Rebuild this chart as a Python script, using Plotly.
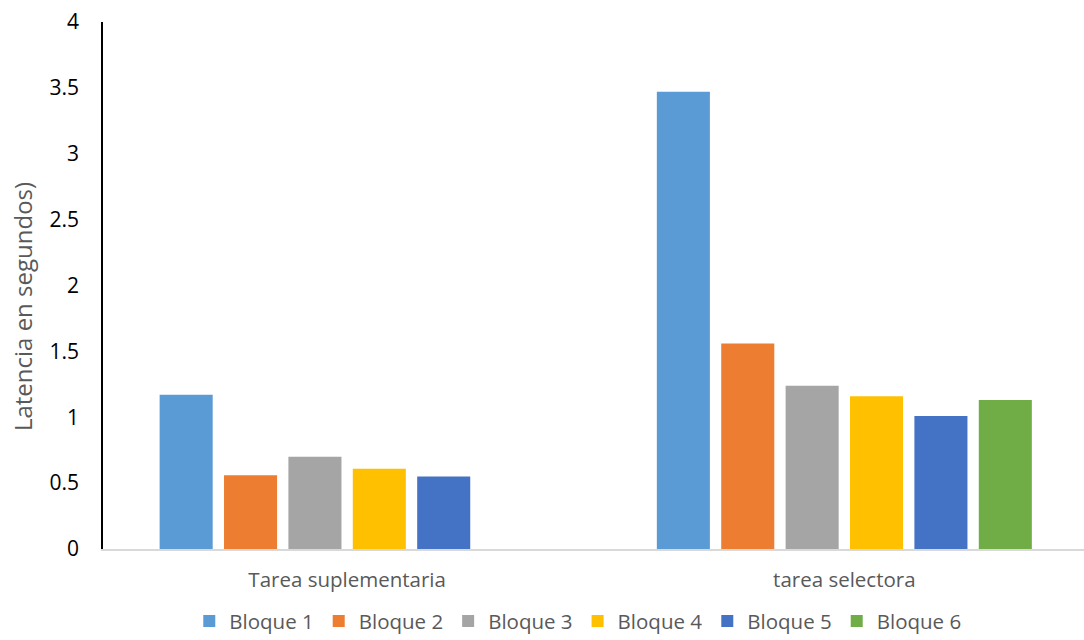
import plotly.graph_objects as go

categories = ["Tarea suplementaria", "tarea selectora"]
series_names = ["Bloque 1", "Bloque 2", "Bloque 3", "Bloque 4", "Bloque 5", "Bloque 6"]
bloque1 = [1.17, 3.47]
bloque2 = [0.56, 1.56]
bloque3 = [0.70, 1.24]
bloque4 = [0.61, 1.16]
bloque5 = [0.55, 1.01]
bloque6 = [None, 1.13]
colors = ["#5B9BD5", "#ED7D31", "#A5A5A5", "#FFC000", "#4472C4", "#70AD47"]
y_title = "Latencia en segundos)"

all_series = [bloque1, bloque2, bloque3, bloque4, bloque5, bloque6]

fig = go.Figure()
for name, vals, col in zip(series_names, all_series, colors):
    fig.add_trace(go.Bar(x=categories, y=vals, name=name, marker_color=col,
                         marker_line_width=0))

fig.update_layout(
    width=1084, height=640,
    margin=dict(l=103, r=0, t=22, b=91, autoexpand=False),
    paper_bgcolor="white", plot_bgcolor="white",
    font=dict(family="Open Sans", size=19, color="#595959"),
    barmode="group", bargap=0.223, bargroupgap=0.176,
    legend=dict(orientation="h", xref="container", x=0.533, xanchor="center",
                yref="paper", y=-0.137, yanchor="middle",
                font=dict(size=20.5, color="#595959"), itemwidth=30, tracegroupgap=0),
    xaxis=dict(range=[-0.491, 1.482], showline=True, linecolor="#D9D9D9", linewidth=2,
               showgrid=False, ticks="", tickfont=dict(size=20.5, color="#595959"),
               ticklabelstandoff=11),
    yaxis=dict(range=[0, 4], dtick=0.5, showline=True, linecolor="#000000", linewidth=1.5,
               showgrid=False, zeroline=False, ticks="",
               tickfont=dict(size=21, color="#000000"), ticklabelstandoff=18,
               tickformat="~g"),
    annotations=[dict(text=y_title, textangle=-90, xref="paper", x=0, xanchor="center",
                      xshift=-81, yref="paper", y=0.459, yanchor="middle", showarrow=False,
                      font=dict(size=24, color="#595959"))],
)

fig.write_html("out.html")
